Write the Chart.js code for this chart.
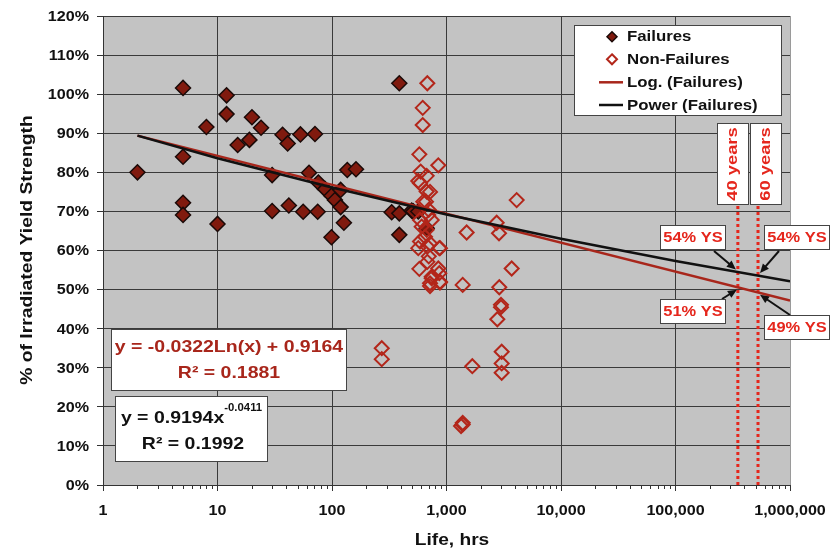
<!DOCTYPE html>
<html>
<head>
<meta charset="utf-8">
<script src="https://cdn.jsdelivr.net/npm/chart.js@4.4.1/dist/chart.umd.min.js"></script>
<style>
  html, body { margin: 0; padding: 0; background: #fff; }
</style>
</head>
<body>
<canvas id="strengthChart" width="832" height="549"></canvas>
<script>
// life (hours) and % of irradiated yield strength
const failureHours = [2, 5, 5, 5, 5, 8, 10, 12, 12, 15, 19, 20, 24, 30, 30, 37, 41, 42, 53, 56,
  63, 71, 75, 76, 87, 99, 106, 119, 119, 99, 127, 136, 162, 332, 387, 387, 387, 497, 513, 567, 671];
const failureStrength = [80, 101.6, 84, 72.2, 69.1, 91.6, 66.8, 99.7, 94.9, 87, 88.3, 94.1, 91.4, 79.3, 70.1, 89.6, 87.4, 71.5, 89.7, 69.9,
  79.9, 89.8, 69.9, 77.4, 75.7, 74, 72.9, 75.5, 71.1, 63.4, 67.1, 80.6, 80.8, 69.8, 102.8, 69.5, 64, 70.2, 70, 70, 65.7];

const nonFailureHours = [680, 620, 620, 579, 848, 595, 671, 567, 671, 662, 4100, 693, 2743, 2875, 1500,
  607, 671, 649, 587, 718, 567, 680, 865, 3710, 579, 680, 848, 865, 743, 718, 877, 1385, 2891, 2992, 2992,
  2779, 272, 272, 3034, 3034, 3034, 1680, 1385, 1385, 1340, 718, 877, 587, 718, 627, 700, 587, 743, 877, 743, 700];
const nonFailureStrength = [102.8, 96.5, 92.1, 84.6, 81.8, 80.2, 79.1, 77.8, 75.1, 72.5, 72.9, 69.1, 67.1, 64.4, 64.6,
  66.1, 65.3, 63.5, 62.3, 61.8, 60.6, 61, 60.6, 55.4, 55.3, 57.1, 55.4, 54.2, 53.3, 50.9, 51.8, 51.2, 50.6, 46.1, 45.5,
  42.4, 35, 32.2, 34.1, 31.1, 28.7, 30.4, 15.5, 15.9, 15.1, 51.6, 52, 77.2, 75, 72.5, 70.4, 67.8, 67.8, 60.6, 52.9, 58.5];

// trendlines of the failures
const logTrendHours = [2, 1000000];
const logTrendStrength = [89.4, 47.2];
const powerTrendHours = [2, 10, 100, 1000, 10000, 100000, 1000000];
const powerTrendStrength = [89.4, 83.6, 76.1, 69.2, 63.0, 57.3, 52.1];

// 40 and 60 years of service
const serviceHours = [350400, 525600];
const serviceLabels = ['40 years', '60 years'];
const powerAtService = [54.4, 53.5];
const logAtService = [50.5, 49.2];

const xTickValues = [1, 10, 100, 1000, 10000, 100000, 1000000];
const xTickLabels = ['1', '10', '100', '1,000', '10,000', '100,000', '1,000,000'];
const yTickValues = [0, 10, 20, 30, 40, 50, 60, 70, 80, 90, 100, 110, 120];
const yTickLabels = ['0%', '10%', '20%', '30%', '40%', '50%', '60%', '70%', '80%', '90%', '100%', '110%', '120%'];

const FONT = "'Liberation Sans'";
const RED = '#e5261c';
const DARKRED = '#a8261b';

function pts(xs, ys) {
  return xs.map((x, i) => ({ x: x, y: ys[i] }));
}

function fontOf(size) {
  return 'bold ' + size + 'px ' + FONT;
}

// text drawn a little wider than the font, like the original export
function drawText(ctx, text, x, y, size, color, align, sx) {
  ctx.save();
  ctx.font = fontOf(size);
  ctx.fillStyle = color;
  ctx.textBaseline = 'middle';
  ctx.textAlign = 'left';
  const w = ctx.measureText(text).width * sx;
  let left = x;
  if (align === 'center') left = x - w / 2;
  if (align === 'right') left = x - w;
  ctx.translate(left, y);
  ctx.scale(sx, 1);
  ctx.fillText(text, 0, 0);
  ctx.restore();
  return w;
}

function textWidth(ctx, text, size, sx) {
  ctx.save();
  ctx.font = fontOf(size);
  const w = ctx.measureText(text).width * sx;
  ctx.restore();
  return w;
}

function drawRotated(ctx, text, cx, cy, size, color, sx) {
  ctx.save();
  ctx.translate(cx, cy);
  ctx.rotate(-Math.PI / 2);
  drawText(ctx, text, 0, 0, size, color, 'center', sx);
  ctx.restore();
}

function box(ctx, x1, y1, x2, y2) {
  ctx.save();
  ctx.fillStyle = '#fff';
  ctx.fillRect(x1, y1, x2 - x1, y2 - y1);
  ctx.strokeStyle = '#444';
  ctx.lineWidth = 1;
  ctx.strokeRect(x1 + 0.5, y1 + 0.5, x2 - x1 - 1, y2 - y1 - 1);
  ctx.restore();
}

function arrow(ctx, x1, y1, x2, y2) {
  const a = Math.atan2(y2 - y1, x2 - x1);
  const len = 9, half = 4;
  ctx.save();
  ctx.strokeStyle = '#111';
  ctx.fillStyle = '#111';
  ctx.lineWidth = 2;
  ctx.beginPath();
  ctx.moveTo(x1, y1);
  ctx.lineTo(x2 - Math.cos(a) * len * 0.8, y2 - Math.sin(a) * len * 0.8);
  ctx.stroke();
  ctx.beginPath();
  ctx.moveTo(x2, y2);
  ctx.lineTo(x2 - Math.cos(a) * len - Math.sin(a) * half, y2 - Math.sin(a) * len + Math.cos(a) * half);
  ctx.lineTo(x2 - Math.cos(a) * len + Math.sin(a) * half, y2 - Math.sin(a) * len - Math.cos(a) * half);
  ctx.closePath();
  ctx.fill();
  ctx.restore();
}

const plotBackground = {
  id: 'plotBackground',
  beforeDraw(chart) {
    const { ctx, chartArea: a } = chart;
    ctx.save();
    ctx.fillStyle = '#fff';
    ctx.fillRect(0, 0, chart.width, chart.height);
    ctx.fillStyle = '#c3c3c3';
    ctx.fillRect(a.left, a.top, a.right - a.left, a.bottom - a.top);
    ctx.restore();
  }
};

const decorations = {
  id: 'decorations',
  afterDraw(chart) {
    const { ctx, chartArea: a } = chart;
    const xs = chart.scales.x, ys = chart.scales.y;

    // minor ticks between the decades
    ctx.save();
    ctx.strokeStyle = '#333';
    ctx.lineWidth = 1;
    ctx.beginPath();
    for (let d = 1; d < 1000000; d *= 10) {
      for (let k = 2; k <= 9; k++) {
        const px = Math.round(xs.getPixelForValue(k * d)) + 0.5;
        ctx.moveTo(px, a.bottom);
        ctx.lineTo(px, a.bottom + 4);
      }
    }
    ctx.stroke();
    ctx.restore();

    // tick labels
    yTickValues.forEach((v, i) => {
      drawText(ctx, yTickLabels[i], 89, ys.getPixelForValue(v) + 1, 14, '#111', 'right', 1.15);
    });
    xTickValues.forEach((v, i) => {
      drawText(ctx, xTickLabels[i], xs.getPixelForValue(v), 511, 14, '#111', 'center', 1.15);
    });

    // axis titles
    drawText(ctx, 'Life, hrs', 452, 540, 16.5, '#111', 'center', 1.16);
    drawRotated(ctx, '% of Irradiated Yield Strength', 27, 250, 16.5, '#111', 1.17);

    // legend
    box(ctx, 574, 25, 782, 116);
    const rows = [36.7, 59.3, 82.3, 105];
    ctx.save();
    ctx.lineWidth = 1.5;
    ctx.fillStyle = '#801a0e';
    ctx.strokeStyle = '#1a0a08';
    ctx.beginPath();
    ctx.moveTo(612, rows[0] - 5); ctx.lineTo(617, rows[0]); ctx.lineTo(612, rows[0] + 5); ctx.lineTo(607, rows[0]);
    ctx.closePath(); ctx.fill(); ctx.stroke();
    ctx.strokeStyle = '#b3261a';
    ctx.lineWidth = 2;
    ctx.beginPath();
    ctx.moveTo(612, rows[1] - 5); ctx.lineTo(617, rows[1]); ctx.lineTo(612, rows[1] + 5); ctx.lineTo(607, rows[1]);
    ctx.closePath(); ctx.stroke();
    ctx.lineWidth = 2.5;
    ctx.strokeStyle = DARKRED;
    ctx.beginPath(); ctx.moveTo(599, rows[2]); ctx.lineTo(623, rows[2]); ctx.stroke();
    ctx.strokeStyle = '#111';
    ctx.beginPath(); ctx.moveTo(599, rows[3]); ctx.lineTo(623, rows[3]); ctx.stroke();
    ctx.restore();
    ['Failures', 'Non-Failures', 'Log. (Failures)', 'Power (Failures)'].forEach((t, i) => {
      drawText(ctx, t, 627, rows[i] + 0.5, 15, '#111', 'left', 1.12);
    });

    // service life markers
    serviceHours.forEach((h, i) => {
      const left = i === 0 ? 717 : 750;
      box(ctx, left, 123, left + 32, 205);
      drawRotated(ctx, serviceLabels[i], left + 16, 164, 15, RED, 1.22);
    });

    // yield strength call-outs at 40 and 60 years
    const tx0 = xs.getPixelForValue(serviceHours[0]);
    const tx1 = xs.getPixelForValue(serviceHours[1]);
    const callouts = [
      { v: powerAtService[0], bx: 660, by: 225, from: [714, 251], to: [tx0 - 2, ys.getPixelForValue(powerAtService[0]) - 3] },
      { v: powerAtService[1], bx: 764, by: 225, from: [779, 251], to: [tx1 + 2, ys.getPixelForValue(powerAtService[1]) - 3] },
      { v: logAtService[0], bx: 660, by: 299, from: [722, 299], to: [tx0 - 1, ys.getPixelForValue(logAtService[0]) + 2] },
      { v: logAtService[1], bx: 764, by: 315, from: [790, 315], to: [tx1 + 2, ys.getPixelForValue(logAtService[1]) + 2] }
    ];
    callouts.forEach(c => {
      arrow(ctx, c.from[0], c.from[1], c.to[0], c.to[1]);
    });
    callouts.forEach(c => {
      box(ctx, c.bx, c.by, c.bx + 66, c.by + 25);
      drawText(ctx, Math.round(c.v) + '% YS', c.bx + 33, c.by + 13, 15.5, RED, 'center', 1.06);
    });

    // trendline equations
    box(ctx, 111, 329, 347, 391);
    drawText(ctx, 'y = -0.0322Ln(x) + 0.9164', 229, 347, 16.5, DARKRED, 'center', 1.18);
    drawText(ctx, 'R\u00b2 = 0.1881', 229, 373, 16.5, DARKRED, 'center', 1.18);

    box(ctx, 115, 396, 268, 462);
    const main = 'y = 0.9194x', sup = '-0.0411';
    const wm = textWidth(ctx, main, 16.5, 1.18), ws = textWidth(ctx, sup, 10.5, 1.08);
    const start = 191.5 - (wm + ws) / 2;
    drawText(ctx, main, start, 418, 16.5, '#111', 'left', 1.18);
    drawText(ctx, sup, start + wm, 408, 10.5, '#111', 'left', 1.08);
    drawText(ctx, 'R\u00b2 = 0.1992', 193, 444, 16.5, '#111', 'center', 1.18);
  }
};

const datasets = [
  {
    label: 'Power (Failures)',
    data: pts(powerTrendHours, powerTrendStrength),
    showLine: true, borderColor: '#111', borderWidth: 2.5, pointRadius: 0, order: 0
  },
  {
    label: 'Log. (Failures)',
    data: pts(logTrendHours, logTrendStrength),
    showLine: true, borderColor: DARKRED, borderWidth: 2.5, pointRadius: 0, order: 1
  }
];
serviceHours.forEach(h => {
  datasets.push({
    label: 'service',
    data: [{ x: h, y: 0 }, { x: h, y: 75 }],
    showLine: true, borderColor: RED, borderWidth: 3, borderDash: [3, 3], pointRadius: 0, order: 2
  });
});
datasets.push({
  label: 'Non-Failures',
  data: pts(nonFailureHours, nonFailureStrength),
  pointStyle: 'rectRot', pointRadius: 7, backgroundColor: 'rgba(0,0,0,0)',
  borderColor: '#b3261a', borderWidth: 2, order: 3
});
datasets.push({
  label: 'Failures',
  data: pts(failureHours, failureStrength),
  pointStyle: 'rectRot', pointRadius: 7.5, backgroundColor: '#801a0e',
  borderColor: '#1a0a08', borderWidth: 1.5, order: 4
});

const ctx = document.getElementById('strengthChart').getContext('2d');
new Chart(ctx, {
  type: 'scatter',
  data: { datasets: datasets },
  options: {
    responsive: false,
    animation: false,
    events: [],
    layout: { autoPadding: false, padding: { left: 0, top: 16, right: 42, bottom: 0 } },
    plugins: { legend: { display: false }, tooltip: { enabled: false } },
    scales: {
      x: {
        type: 'logarithmic',
        min: 1,
        max: 1000000,
        afterBuildTicks: s => { s.ticks = xTickValues.map(v => ({ value: v })); },
        afterFit: s => { s.height = 64; },
        ticks: { display: false },
        grid: {
          color: c => (c.tick && c.tick.value === 1000000 ? '#9a9a9a' : '#3a3a3a'),
          lineWidth: 1,
          tickLength: 6,
          tickColor: '#333'
        },
        border: { color: '#333', width: 1 }
      },
      y: {
        min: 0,
        max: 120,
        afterBuildTicks: s => { s.ticks = yTickValues.map(v => ({ value: v })); },
        afterFit: s => { s.width = 103; },
        ticks: { display: false },
        grid: { color: '#3a3a3a', lineWidth: 1, tickLength: 6, tickColor: '#333' },
        border: { color: '#333', width: 1 }
      }
    }
  },
  plugins: [plotBackground, decorations]
});
</script>
</body>
</html>
